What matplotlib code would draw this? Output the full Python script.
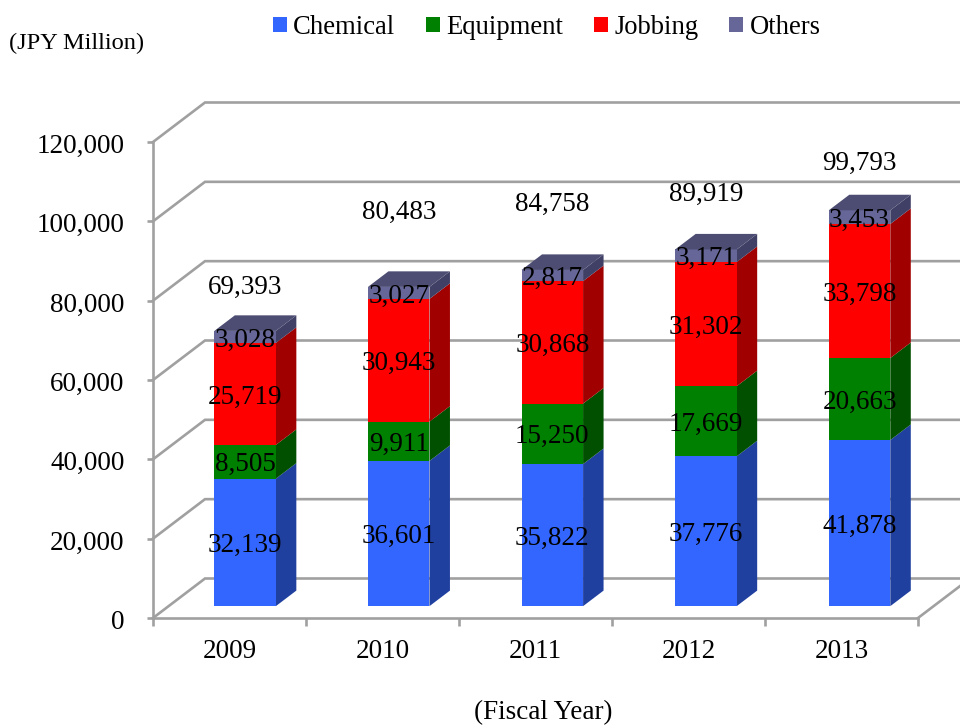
import matplotlib
matplotlib.use("Agg")
import matplotlib.pyplot as plt
import numpy as np
from matplotlib.patches import Patch
from matplotlib.transforms import ScaledTranslation

# ---- data ----
years = ["2009", "2010", "2011", "2012", "2013"]
chemical = [32139, 36601, 35822, 37776, 41878]
equipment = [8505, 9911, 15250, 17669, 20663]
jobbing = [25719, 30943, 30868, 31302, 33798]
others = [3028, 3027, 2817, 3171, 3453]
totals = [69393, 80483, 84758, 89919, 99793]
series_names = ["Chemical", "Equipment", "Jobbing", "Others"]
y_ticks = [0, 20000, 40000, 60000, 80000, 100000, 120000]

# ---- style ----
front_colors = ["#3366FF", "#008000", "#FF0000", "#666699"]
side_colors = ["#2040A0", "#005000", "#A00000", "#404066"]
top_color = "#4D4D73"
grid_color = "#A0A0A0"
total_lift_px = [46, 77, 69, 58, 50]

plt.rcParams["font.family"] = ["Liberation Serif", "DejaVu Serif"]
FS = 19.5
W, H = 960, 727
fig = plt.figure(figsize=(W / 100, H / 100), dpi=100, facecolor="white")
ax = fig.add_axes([153 / W, (H - 618) / H, 765 / W, 476 / H])
ax.set_xlim(0, 5)
ax.set_ylim(0, 120000)

# depth of the 3-D box in data units
depth_x = 52 / 153
depth_y = 39.5 / 79.33 * 20000
base_frac = 0.30
bar_depth_frac = 0.394
bar_width = 0.402
bar_pitch = 1.004
lw = 1.9
text_down_pt = 2.2
tick_down_pt = 0.9

# back wall gridlines and floor / side diagonals
for v in y_ticks:
    ax.plot([0, depth_x, 5 + depth_x], [v, v + depth_y, v + depth_y],
            color=grid_color, lw=lw, clip_on=False, zorder=1, solid_joinstyle="miter")
ax.plot([5, 5 + depth_x], [0, depth_y], color=grid_color, lw=lw, clip_on=False, zorder=1)

# bars
centers = np.arange(len(years)) * bar_pitch + 0.5 + base_frac * depth_x
base = base_frac * depth_y
dx = bar_depth_frac * depth_x
dy = bar_depth_frac * depth_y
bottom = np.zeros(len(years))
all_series = [chemical, equipment, jobbing, others]
for name, vals, fc, sc in zip(series_names, all_series, front_colors, side_colors):
    vals = np.array(vals, dtype=float)
    for c, b, v in zip(centers, bottom, vals):
        xr = c + bar_width / 2
        ax.fill([xr, xr + dx, xr + dx, xr],
                [b + base, b + base + dy, b + v + base + dy, b + v + base],
                color=sc, lw=0, zorder=3, clip_on=False)
    bars = ax.bar(centers, vals, bar_width, bottom=bottom + base, color=fc, lw=0,
                  zorder=4, clip_on=False)
    labels = ax.bar_label(bars, labels=[f"{int(v):,}" for v in vals], label_type="center",
                          fontsize=FS, color="black", zorder=6)
    for t in labels:
        t.xyann = (0, -text_down_pt)
    bottom = bottom + vals

# top faces and totals
for c, t, total, lift in zip(centers, bottom, totals, total_lift_px):
    xl, xr = c - bar_width / 2, c + bar_width / 2
    ax.fill([xl, xr, xr + dx, xl + dx],
            [t + base, t + base, t + base + dy, t + base + dy],
            color=top_color, lw=0, zorder=4, clip_on=False)
    ax.annotate(f"{total:,}", (c, t + base), xytext=(0, lift - 3), textcoords="offset pixels",
                ha="center", va="center", fontsize=FS, color="black", zorder=6,
                annotation_clip=False)

# axes
for s in ("top", "right"):
    ax.spines[s].set_visible(False)
for s in ("left", "bottom"):
    ax.spines[s].set_color(grid_color)
    ax.spines[s].set_linewidth(lw)
ax.set_yticks(y_ticks)
ax.set_yticklabels([f"{v:,}" for v in y_ticks], fontsize=FS)
ax.tick_params(axis="y", length=4.5, width=lw, color=grid_color, pad=16)
ax.set_xticks(np.arange(6))
ax.set_xticklabels([])
ax.tick_params(axis="x", which="major", length=5.8, width=lw, color=grid_color)
ax.set_xticks(np.arange(len(years)) + 0.5, minor=True)
ax.set_xticklabels(years, minor=True, fontsize=FS)
ax.tick_params(axis="x", which="minor", length=0, pad=15.3)
ax.patch.set_alpha(0)
shift = ScaledTranslation(0, -tick_down_pt / 72, fig.dpi_scale_trans)
for lbl in ax.get_yticklabels():
    lbl.set_transform(lbl.get_transform() + shift)

# legend
handles = [Patch(facecolor=c, edgecolor="none", label=n)
           for c, n in zip(front_colors, series_names)]
fig.legend(handles=handles, loc="center", bbox_to_anchor=(546.5 / W, (H - 27.5) / H),
           ncol=4, frameon=False, fontsize=19.2, handlelength=0.53, handleheight=0.53,
           handletextpad=0.23, columnspacing=1.16, borderpad=0, borderaxespad=0)

# unit captions
fig.text(9 / W, (H - 43) / H, "(JPY Million)", fontsize=17.6, ha="left", va="center")
fig.text(543 / W, (H - 713) / H, "(Fiscal Year)", fontsize=19.5, ha="center", va="center")

fig.savefig("out.png", dpi=100, facecolor="white")
